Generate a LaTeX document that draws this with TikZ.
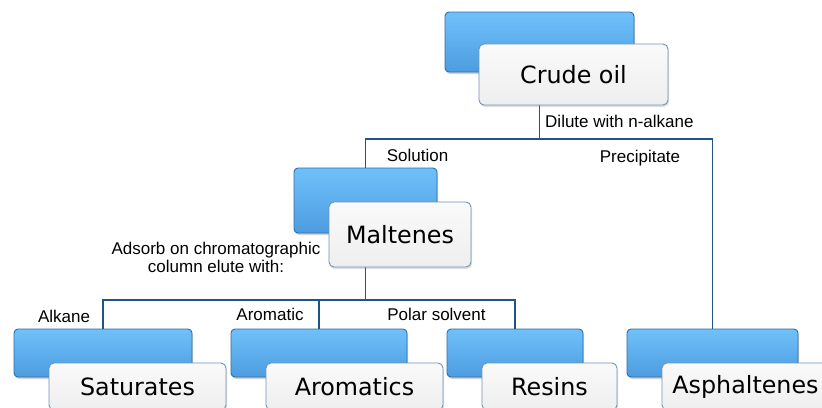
\documentclass[tikz,border=0pt]{standalone}
\usepackage{fontspec}
\setmainfont{Liberation Sans}
\newfontfamily\boxfont{DejaVu Sans}
\usetikzlibrary{shadows,calc}
\definecolor{bluetop}{HTML}{70C1FA}
\definecolor{bluebot}{HTML}{4C9CE0}
\definecolor{blueedge}{HTML}{2F6EA6}
\definecolor{linecol}{HTML}{1E5486}
\definecolor{cardedge}{HTML}{6F93BA}
\definecolor{cardtop}{HTML}{FAFAFA}
\definecolor{cardbot}{HTML}{EEEEEE}
\tikzset{
  backbox/.style={draw=blueedge, line width=0.9pt, rounded corners=4pt,
    top color=bluetop, bottom color=bluebot, inner sep=0pt,
    drop shadow={shadow xshift=1pt, shadow yshift=-2pt, opacity=0.35}},
  card/.style={draw=cardedge, line width=0.9pt, rounded corners=5pt,
    top color=cardtop, bottom color=cardbot, inner sep=0pt,
    font=\boxfont\fontsize{23.8}{26}\selectfont,
    drop shadow={shadow xshift=1pt, shadow yshift=-2pt, opacity=0.25}},
  conn/.style={draw=linecol, line width=1.8pt},
  lbl/.style={font=\fontsize{17}{17.5}\selectfont, inner sep=0pt, text=black}
}
\begin{document}
\begin{tikzpicture}[x=1pt,y=-1pt]
\clip (0,0) rectangle (822,407);
\fill[white] (0,0) rectangle (822,407);
% blue back boxes
\node[backbox, minimum width=189pt, minimum height=60pt] (crudeB) at (539.5,42) {};
\node[backbox, minimum width=143pt, minimum height=65pt] (maltB) at (365.5,200.5) {};
\node[backbox, minimum width=178pt, minimum height=48pt] (satB) at (103,353) {};
\node[backbox, minimum width=176pt, minimum height=48pt] (aroB) at (319,353) {};
\node[backbox, minimum width=136pt, minimum height=48pt] (resB) at (515,353) {};
\node[backbox, minimum width=171pt, minimum height=48pt] (aspB) at (712.5,353) {};
% connectors
\coordinate (j1) at (crudeB.south |- 0,139);
\coordinate (j2) at (maltB.south |- 0,300);
\draw[conn] (crudeB.south) -- (j1);
\draw[conn] (maltB.north) |- (j1) -| (aspB.north);
\draw[conn] (maltB.south) -- (j2);
\draw[conn] (satB.north) |- (j2) -| (resB.north);
\draw[conn] (aroB.north) -- (aroB.north |- j2);
% white cards
\node[card, minimum width=189pt, minimum height=61pt] (crude) at (573.5,74.5) {Crude oil};
\node[card, minimum width=142pt, minimum height=65pt] (malt) at (400,234.5) {Maltenes};
\node[card, minimum width=177pt, minimum height=47pt] (sat) at (137.5,386.5) {Saturates};
\node[card, minimum width=177pt, minimum height=47pt] (aro) at (354.5,386.5) {Aromatics};
\node[card, minimum width=135pt, minimum height=47pt] (res) at (549.5,386.5) {Resins};
\node[card, minimum width=167pt, minimum height=47pt] (asp) at (745.5,386.5) {Asphaltenes};
% labels
\node[lbl, anchor=base west] (ldil) at (545,127) {Dilute with n-alkane};
\node[lbl, anchor=base] (lsol) at (417.5,161) {Solution};
\node[lbl, anchor=base] (lpre) at (640,162) {Precipitate};
\node[lbl, anchor=base, align=center] (lads) at (216,272) {Adsorb on chromatographic\\column elute with:};
\node[lbl, anchor=base] (lalk) at (64,322) {Alkane};
\node[lbl, anchor=base] (larom) at (270,320) {Aromatic};
\node[lbl, anchor=base] (lpol) at (436.5,320) {Polar solvent};
\end{tikzpicture}
\end{document}
